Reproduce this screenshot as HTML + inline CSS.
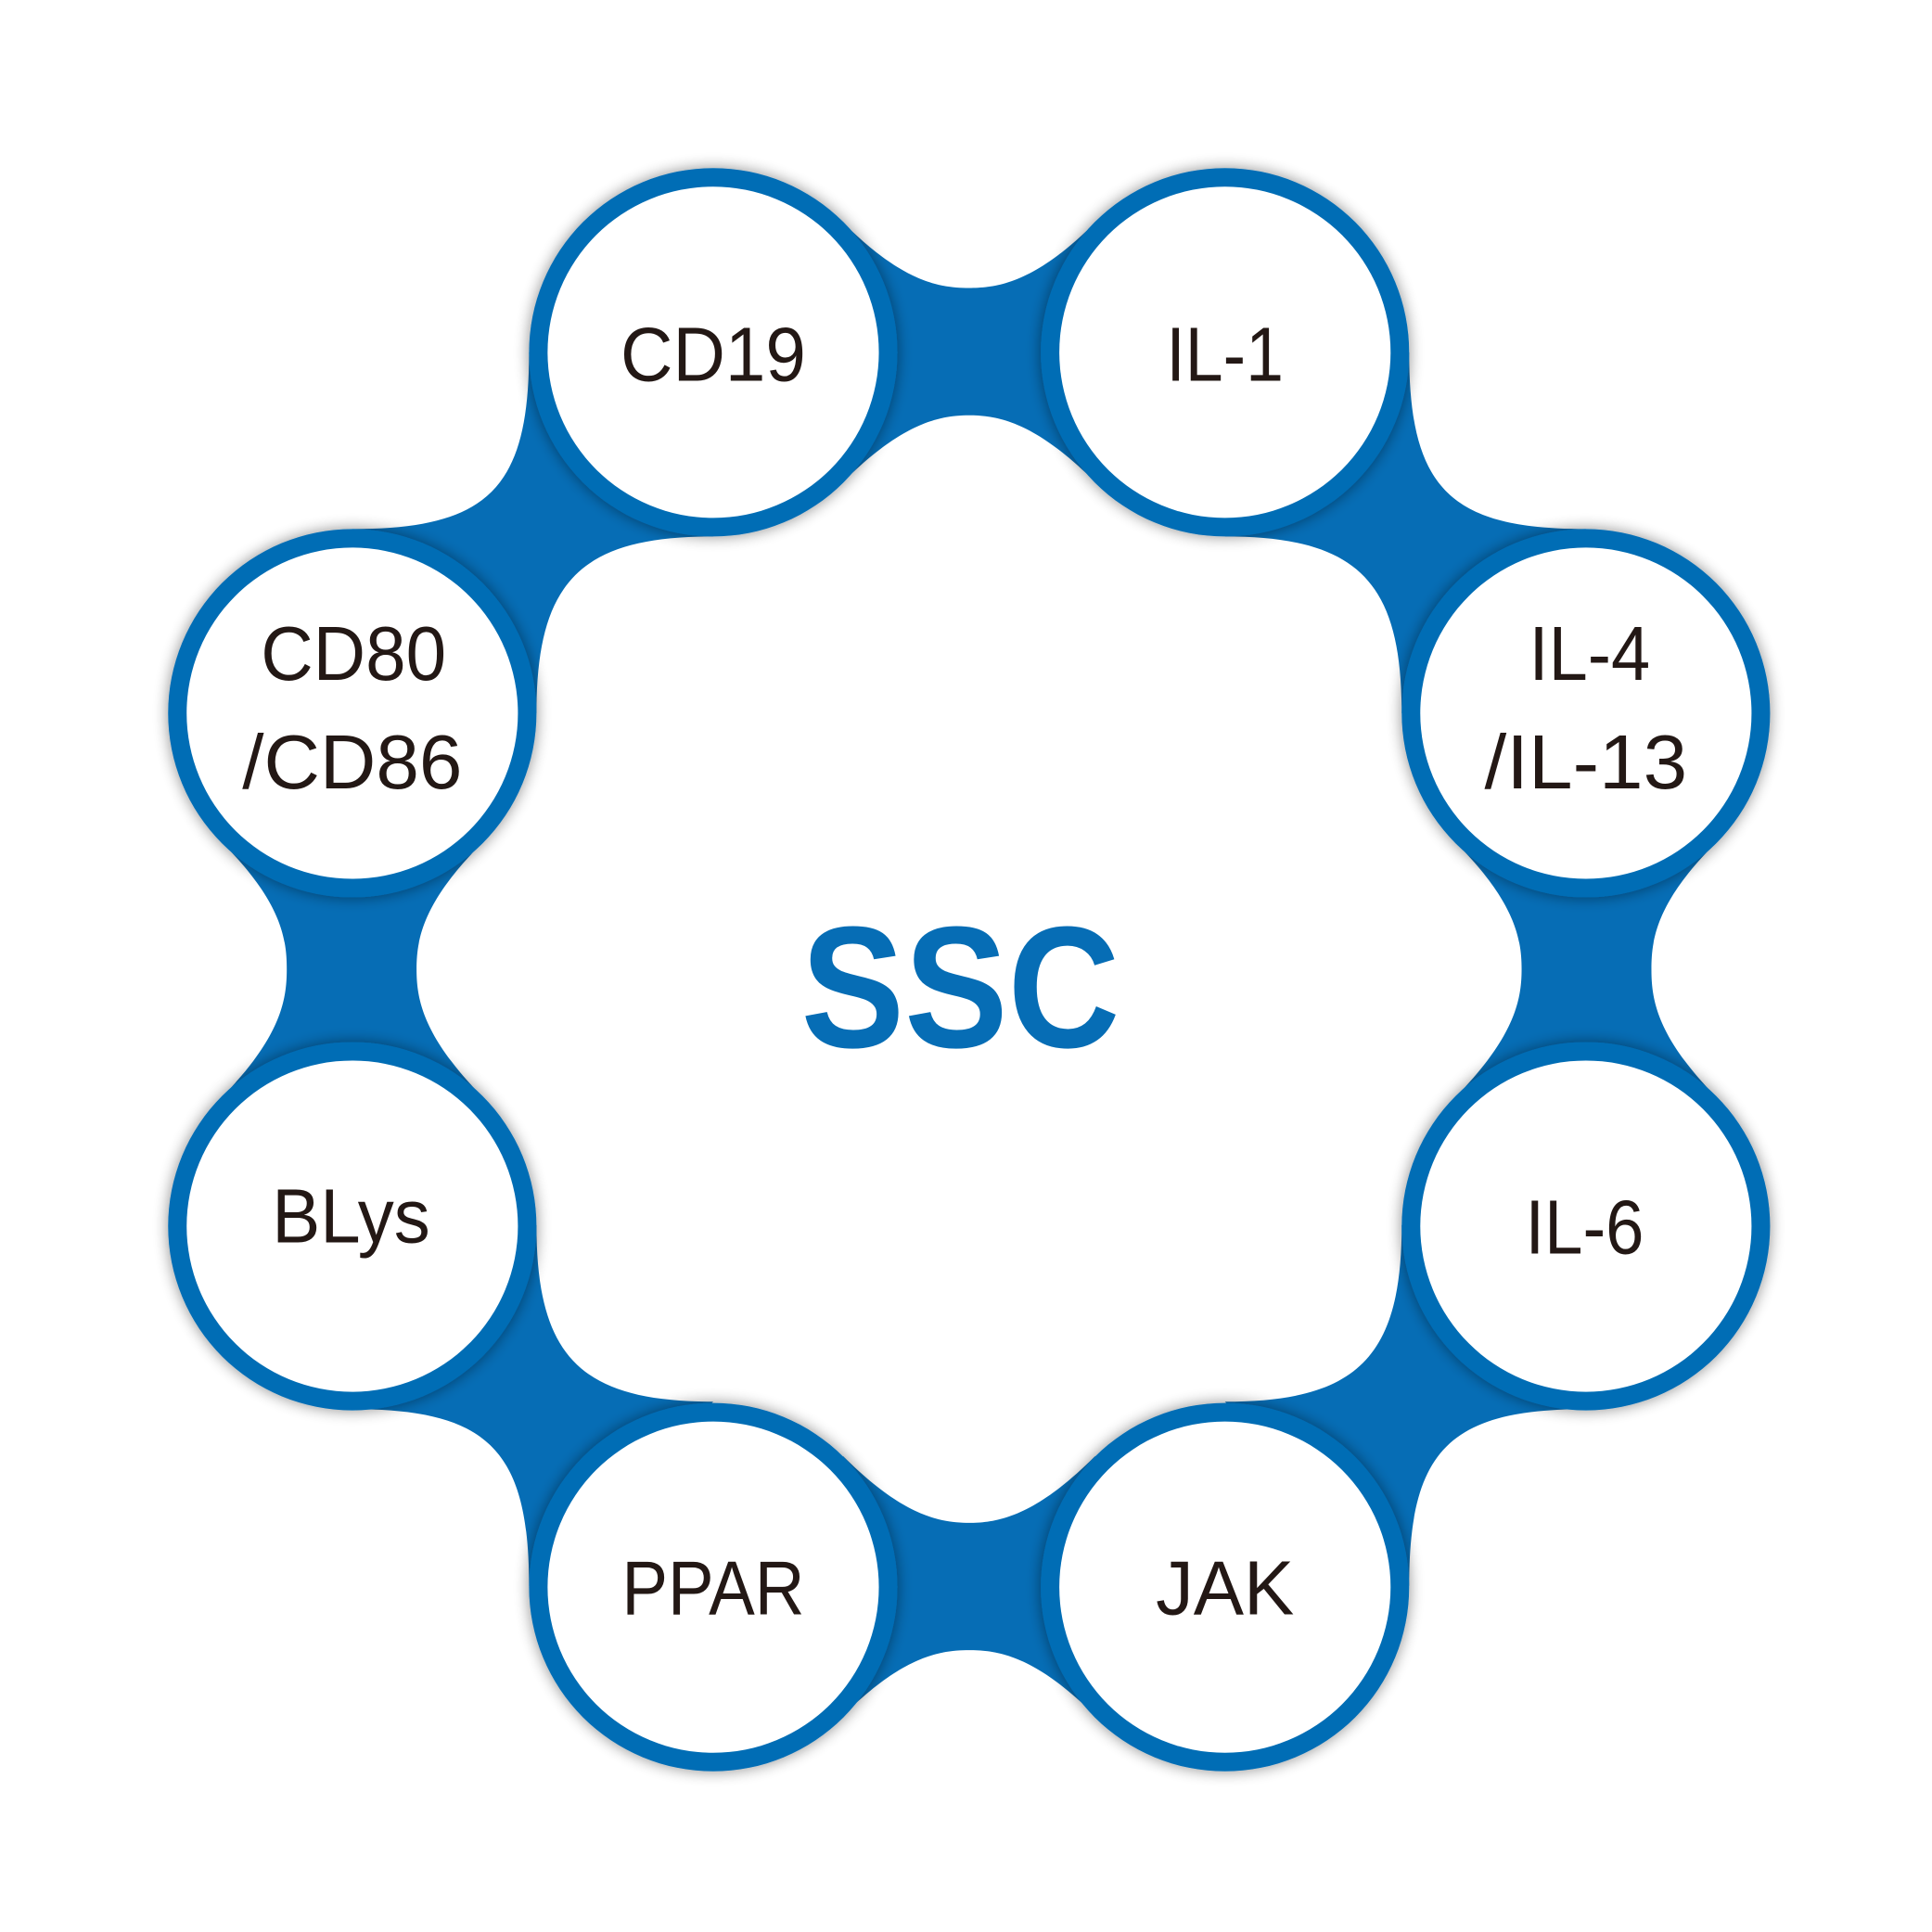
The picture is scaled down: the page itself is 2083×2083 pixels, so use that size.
<!DOCTYPE html>
<html><head><meta charset="utf-8"><style>
html,body{margin:0;padding:0;background:#fff;}
svg{display:block;}
text{font-family:"Liberation Sans",sans-serif;}
</style></head><body>
<svg width="2083" height="2083" viewBox="0 0 1563 1563" xmlns="http://www.w3.org/2000/svg">
<defs>
<filter id="sh" x="-20%" y="-20%" width="140%" height="140%">
<feGaussianBlur in="SourceAlpha" stdDeviation="6"/>
<feOffset dx="0" dy="0"/>
<feComponentTransfer><feFuncA type="linear" slope="0.45"/></feComponentTransfer>
<feMerge><feMergeNode/><feMergeNode in="SourceGraphic"/></feMerge>
</filter>
<g id="hb"><path d="M682,180 C730,228 760,233 784,233 C808,233 838,228 886,180 L886,390 C838,342 808,336 784,336 C760,336 730,342 682,390 Z"/></g>
<g id="vb"><path d="M180,682 C228,730 232,760 232,784 C232,808 228,838 180,887 L390,887 C342,838 337,808 337,784 C337,760 342,730 390,682 Z"/></g>
<g id="cb"><path d="M428,285 C428,395 395,428 285,428 L434,577 C434,470 470,434 577,434 Z"/></g>
</defs>
<g fill="#066db5">
<use href="#hb"/>
<use href="#hb" transform="translate(0,1568) scale(1,-1)"/>
<use href="#vb"/>
<use href="#vb" transform="translate(1568,0) scale(-1,1)"/>
<use href="#cb"/>
<use href="#cb" transform="translate(1568,0) scale(-1,1)"/>
<use href="#cb" transform="translate(0,1568) scale(1,-1)"/>
<use href="#cb" transform="translate(1568,1568) scale(-1,-1)"/>
</g>
<g fill="#066db5" filter="url(#sh)">
<circle cx="577" cy="285" r="149"/>
<circle cx="991" cy="285" r="149"/>
<circle cx="1283" cy="577" r="149"/>
<circle cx="1283" cy="992" r="149"/>
<circle cx="991" cy="1284" r="149"/>
<circle cx="577" cy="1284" r="149"/>
<circle cx="285" cy="992" r="149"/>
<circle cx="285" cy="577" r="149"/>
</g>
<g fill="#fff">
<circle cx="577" cy="285" r="134"/>
<circle cx="991" cy="285" r="134"/>
<circle cx="1283" cy="577" r="134"/>
<circle cx="1283" cy="992" r="134"/>
<circle cx="991" cy="1284" r="134"/>
<circle cx="577" cy="1284" r="134"/>
<circle cx="285" cy="992" r="134"/>
<circle cx="285" cy="577" r="134"/>
</g>
<g fill="#231815" font-size="62" text-anchor="middle" lengthAdjust="spacingAndGlyphs">
<text x="577" y="308" textLength="150" lengthAdjust="spacingAndGlyphs">CD19</text>
<text x="991" y="308" textLength="95" lengthAdjust="spacingAndGlyphs">IL-1</text>
<text x="1286" y="550" textLength="98" lengthAdjust="spacingAndGlyphs">IL-4</text>
<text x="1283" y="638" textLength="164" lengthAdjust="spacingAndGlyphs">/IL-13</text>
<text x="1282" y="1014" textLength="96" lengthAdjust="spacingAndGlyphs">IL-6</text>
<text x="991" y="1306" textLength="112" lengthAdjust="spacingAndGlyphs">JAK</text>
<text x="577" y="1306" textLength="148" lengthAdjust="spacingAndGlyphs">PPAR</text>
<text x="284" y="1005" textLength="128" lengthAdjust="spacingAndGlyphs">BLys</text>
<text x="286" y="550" textLength="150" lengthAdjust="spacingAndGlyphs">CD80</text>
<text x="285" y="638" textLength="178" lengthAdjust="spacingAndGlyphs">/CD86</text>
</g>
<text x="777" y="847" font-size="140" font-weight="bold" fill="#066db5" text-anchor="middle" textLength="258" lengthAdjust="spacingAndGlyphs">SSC</text>
</svg>
</body></html>
